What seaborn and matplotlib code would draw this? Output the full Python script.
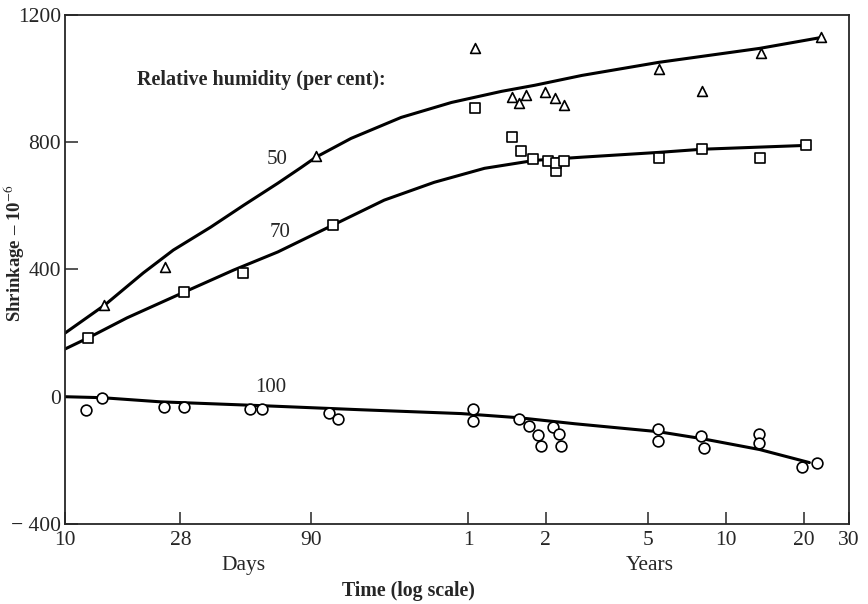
import pandas as pd
import numpy as np
import matplotlib
matplotlib.use('Agg')
import matplotlib.pyplot as plt
from matplotlib.ticker import NullLocator
import seaborn as sns

# measured points (time in days, shrinkage in 10^-6)
rh50_days = [14.2, 24.5, 94, 387, 539, 574, 611, 724, 792, 859, 2012, 2956, 4970, 8510]
rh50_vals = [289, 408, 756, 1095, 941, 922, 950, 957, 938, 916, 1029, 960, 1082, 1130]

rh70_days = [12.3, 29.0, 48.8, 109, 387, 542, 587, 650, 744, 799, 799, 859, 2012, 2956, 4930, 7440]
rh70_vals = [185, 329, 389, 539, 909, 816, 772, 747, 740, 709, 734, 740, 750, 778, 750, 790]

rh100_days = [12.1, 13.9, 24.1, 29.0, 52, 57.9, 106, 114, 383, 383, 574, 628, 680, 699,
              778, 821, 836, 1995, 1995, 2931, 3012, 4885, 4885, 7180, 8210]
rh100_vals = [-41, -3, -31, -31, -38, -38, -50, -69, -38, -75, -69, -91, -119, -154,
              -94, -116, -154, -100, -138, -125, -160, -116, -144, -220, -207]

# fitted curves
fit50_days = [10, 14.3, 20.1, 26.3, 36.7, 49.3, 66.8, 82.1, 93.9, 128.5, 201, 315, 493, 662,
              1009, 2000, 4930, 8510]
fit50_vals = [200, 289, 389, 461, 533, 602, 671, 720, 753, 812, 878, 925, 960, 979,
              1010, 1051, 1095, 1129]

fit70_days = [10, 12.3, 17.4, 29.0, 45.0, 66.8, 109, 172.8, 270, 423, 662, 1009,
              2000, 2956, 7440]
fit70_vals = [150, 185, 248, 329, 398, 455, 539, 618, 674, 718, 743, 753,
              768, 778, 790]

fit100_days = [10, 13.9, 23.4, 57.4, 140.6, 344, 574, 948, 2000, 2956, 4930, 7690]
fit100_vals = [0, -3, -16, -28, -41, -53, -66, -85, -110, -132, -166, -207]

tick_days = [10, 28, 90, 365, 730, 1825, 3650, 7300, 10950]
tick_labels = ['10', '28', '90', '1', '2', '5', '10', '20', '30']

sns.set_style('ticks')
plt.rcParams['font.family'] = ['Liberation Serif', 'DejaVu Serif']
plt.rcParams['mathtext.fontset'] = 'stix'

fig = plt.figure(figsize=(8.68, 6.04), dpi=100)
ax = fig.add_axes([0.0749, 0.1325, 0.9032, 0.8427])

for d, v in [(fit50_days, fit50_vals), (fit70_days, fit70_vals), (fit100_days, fit100_vals)]:
    sns.lineplot(x=d, y=v, ax=ax, color='black', linewidth=2.2, sort=False)

sns.scatterplot(x=rh50_days, y=rh50_vals, ax=ax, marker='^', s=50,
                facecolor='white', edgecolor='black', linewidth=1.2, zorder=3)
sns.scatterplot(x=rh70_days, y=rh70_vals, ax=ax, marker='s', s=48,
                facecolor='white', edgecolor='black', linewidth=1.2, zorder=3)
sns.scatterplot(x=rh100_days, y=rh100_vals, ax=ax, marker='o', s=60,
                facecolor='white', edgecolor='black', linewidth=1.2, zorder=3)

ax.set_xscale('log')
ax.set_xlim(10, 10950)
ax.set_ylim(-400, 1200)
ax.set_xticks(tick_days)
ax.set_xticklabels(tick_labels)
ax.xaxis.set_minor_locator(NullLocator())
ax.set_yticks([-400, 0, 400, 800, 1200])
ax.set_yticklabels(['\u2212 400', '0', '400', '800', '1200'])
ax.tick_params(direction='in', length=9, width=1.1, labelsize=15.5)
ax.tick_params(axis='x', pad=5)
ax.tick_params(axis='y', pad=3)
for s in ax.spines.values():
    s.set_linewidth(1.3)

ax.set_xlabel('')
ax.set_ylabel('')
fig.text(0.016, 0.58, 'Shrinkage \u2013 10$^{-6}$', rotation=90, fontsize=13.5,
         fontweight='bold', ha='center', va='center')

ax.text(0.092, 0.872, 'Relative humidity (per cent):', transform=ax.transAxes,
        fontsize=14.5, fontweight='bold', ha='left', va='center')
ax.text(0.270, 0.717, '50', transform=ax.transAxes, fontsize=15, ha='center', va='center')
ax.text(0.274, 0.572, '70', transform=ax.transAxes, fontsize=15, ha='center', va='center')
ax.text(0.263, 0.269, '100', transform=ax.transAxes, fontsize=15, ha='center', va='center')

fig.text(0.28, 0.064, 'Days', fontsize=15.5, ha='center', va='center')
fig.text(0.749, 0.064, 'Years', fontsize=15.5, ha='center', va='center')
fig.text(0.471, 0.022, 'Time (log scale)', fontsize=14.3, fontweight='bold', ha='center', va='center')

fig.savefig('out.png', dpi=100)
